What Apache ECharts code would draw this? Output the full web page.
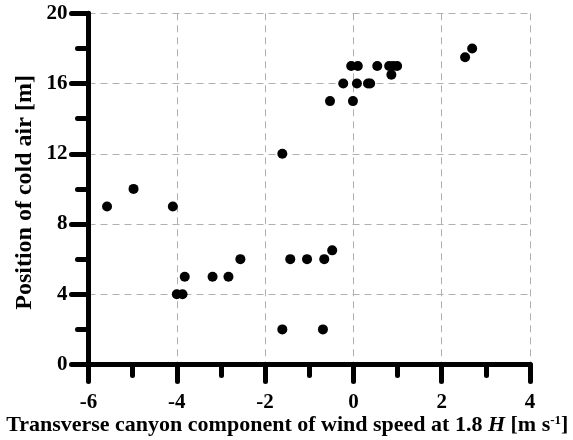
<!DOCTYPE html>
<html><head><meta charset="utf-8">
<script src="https://cdn.jsdelivr.net/npm/echarts@6/dist/echarts.min.js"></script>
<style>html,body{margin:0;padding:0;background:#fff}#c{width:573px;height:440px}</style>
</head><body><div id="c"></div>
<script>
const windSpeed = [-5.58,-4.98,-4.09,-4.0,-3.87,-3.82,-3.19,-2.83,-2.56,-1.61,-1.61,-1.43,-1.05,-0.69,-0.66,-0.48,-0.53,-0.23,-0.01,-0.05,0.10,0.08,0.33,0.38,0.54,0.81,0.90,0.99,0.86,2.53,2.69];
const coldAirPos = [9,10,9,4,4,5,5,5,6,12,2,6,6,2,6,6.5,15,16,15,17,17,16,16,16,17,17,17,17,16.5,17.5,18];
const xTicks = {min:-6, max:4, interval:2};
const yTicks = {min:0, max:20, interval:4};
const points = windSpeed.map((x,i)=>[x, coldAirPos[i]]);
const font = 'Liberation Serif';
const chart = echarts.init(document.getElementById('c'), null, {renderer:'canvas'});
const axisCommon = {
  axisLine:{show:true, onZero:false, lineStyle:{color:'#000', width:5}},
  axisTick:{show:true, inside:false, length:17, lineStyle:{color:'#000', width:5, cap:'round'}},
  minorTick:{show:true, splitNumber:2, length:11, lineStyle:{color:'#000', width:5, cap:'round'}},
  splitLine:{show:true, lineStyle:{color:'#b0b0b0', width:1, type:[7,5]}},
  minorSplitLine:{show:false}
};
chart.setOption({
  animation:false,
  grid:{left:88.5, right:43, top:13.3, bottom:75.5, containLabel:false, outerBoundsMode:'none'},
  xAxis:Object.assign({
    type:'value', min:xTicks.min, max:xTicks.max, interval:xTicks.interval,
    axisLabel:{margin:28, color:'#000', fontFamily:font, fontWeight:'bold', fontSize:21},
    name:'{b|Transverse canyon component of wind speed at 1.8 }{i|H}{b| [m s}{s|-1}{b|]}',
    nameLocation:'middle', nameGap:50, nameMoveOverlap:false,
    nameTextStyle:{padding:[0,44,0,0], rich:{
      b:{fontFamily:font, fontWeight:'bold', fontSize:22, color:'#000'},
      i:{fontFamily:font, fontWeight:'bold', fontStyle:'italic', fontSize:22, color:'#000'},
      s:{fontFamily:font, fontWeight:'bold', fontSize:13, color:'#000', padding:[0,0,9,0]}
    }}
  }, axisCommon),
  yAxis:Object.assign({
    type:'value', min:yTicks.min, max:yTicks.max, interval:yTicks.interval,
    axisLabel:{margin:21, color:'#000', fontFamily:font, fontWeight:'bold', fontSize:21},
    name:'Position of cold air [m]', nameLocation:'middle', nameGap:52, nameMoveOverlap:false,
    nameTextStyle:{fontFamily:font, fontWeight:'bold', fontSize:24, color:'#000', padding:[0,7,0,0]}
  }, axisCommon),
  series:[{type:'scatter', data:points, symbol:'circle', symbolSize:10, itemStyle:{color:'#000', opacity:1}, z:5}]
});
</script></body></html>
